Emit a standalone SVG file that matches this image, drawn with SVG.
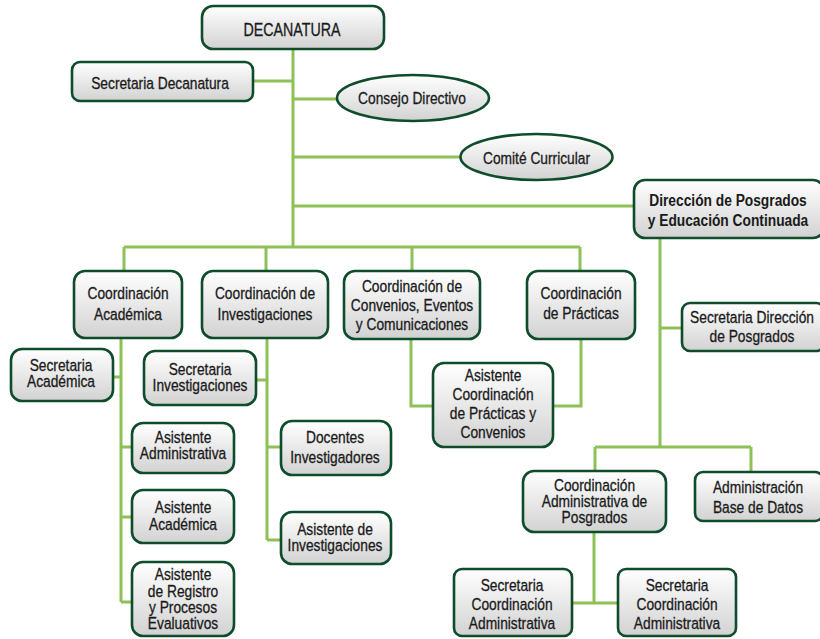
<svg xmlns="http://www.w3.org/2000/svg" width="820" height="639" viewBox="0 0 820 639">
<defs>
<linearGradient id="g" x1="0" y1="0" x2="0" y2="1">
<stop offset="0" stop-color="#ffffff"/>
<stop offset="1" stop-color="#d2d2d2"/>
</linearGradient>
<style>
.b{fill:url(#g);stroke:#0f4c2b;stroke-width:2.6}
.c{fill:none;stroke:#8dc157;stroke-width:3}
text{font-family:"Liberation Sans",Arial,sans-serif;font-size:17px;fill:#1a1a1a;stroke:#1a1a1a;stroke-width:0.3;text-anchor:middle}
.bd{font-weight:bold;stroke-width:0}
</style>
</defs>
<rect width="820" height="639" fill="#ffffff"/>
<g id="connectors">
<path class="c" d="M293,49V247M253,81H293M293,99H337M293,157H460M293,206H634M124,247H580M124,247V271M266,247V271M412,247V271M580,247V271"/>
<path class="c" d="M121,338V602M113,377H121M121,447H132M121,517H132M121,602H132"/>
<path class="c" d="M267,338V540M256,380H267M267,447H281M267,540H281"/>
<path class="c" d="M411,339V406H433M581,339V406H553"/>
<path class="c" d="M660,238V447M660,328H682M595,447H751M595,447V471M751,447V472M594,532V603M572,603H618"/>
</g>
<g id="decanatura"><rect class="b" x="202" y="6" width="182" height="43" rx="11"/><text transform="matrix(.77 0 0 1 292 36)" style="font-size:18.5px">DECANATURA</text></g>
<g id="secretaria-decanatura"><rect class="b" x="72" y="62" width="181" height="39" rx="8"/><text transform="matrix(.81 0 0 1 160 88.5)">Secretaria Decanatura</text></g>
<g id="consejo-directivo"><ellipse class="b" cx="413" cy="98" rx="76" ry="23"/><text transform="matrix(.81 0 0 1 412 104)">Consejo Directivo</text></g>
<g id="comite-curricular"><ellipse class="b" cx="536.5" cy="157" rx="76" ry="23"/><text transform="matrix(.81 0 0 1 536.5 164)">Comité Curricular</text></g>
<g id="direccion-posgrados"><rect class="b" x="634" y="180" width="190" height="58" rx="11"/><text class="bd" transform="matrix(.81 0 0 1 728 206)">Dirección de Posgrados</text><text class="bd" transform="matrix(.81 0 0 1 728 226)">y Educación Continuada</text></g>
<g id="coord-academica"><rect class="b" x="74" y="271" width="108" height="67" rx="11"/><text transform="matrix(.81 0 0 1 128 299)">Coordinación</text><text transform="matrix(.81 0 0 1 128 320)">Académica</text></g>
<g id="coord-investigaciones"><rect class="b" x="202" y="271" width="126" height="67" rx="11"/><text transform="matrix(.81 0 0 1 265 299)">Coordinación de</text><text transform="matrix(.81 0 0 1 265 320)">Investigaciones</text></g>
<g id="coord-convenios"><rect class="b" x="344" y="271" width="136" height="68" rx="11"/><text transform="matrix(.81 0 0 1 412 292)">Coordinación de</text><text transform="matrix(.81 0 0 1 412 311)">Convenios, Eventos</text><text transform="matrix(.81 0 0 1 412 330)">y Comunicaciones</text></g>
<g id="coord-practicas"><rect class="b" x="527" y="271" width="108" height="68" rx="11"/><text transform="matrix(.81 0 0 1 581 299)">Coordinación</text><text transform="matrix(.81 0 0 1 581 319)">de Prácticas</text></g>
<g id="secretaria-direccion"><rect class="b" x="682" y="303" width="142" height="48" rx="8"/><text transform="matrix(.81 0 0 1 752 323)">Secretaria Dirección</text><text transform="matrix(.81 0 0 1 752 342)">de Posgrados</text></g>
<g id="secretaria-academica"><rect class="b" x="11" y="349" width="102" height="52" rx="11"/><text transform="matrix(.81 0 0 1 61 371)">Secretaria</text><text transform="matrix(.81 0 0 1 61 387)">Académica</text></g>
<g id="secretaria-investigaciones"><rect class="b" x="144" y="351" width="112" height="54" rx="11"/><text transform="matrix(.81 0 0 1 200 375)">Secretaria</text><text transform="matrix(.81 0 0 1 200 391)">Investigaciones</text></g>
<g id="asistente-coord-practicas"><rect class="b" x="433" y="363" width="120" height="84" rx="11"/><text transform="matrix(.81 0 0 1 493 381)">Asistente</text><text transform="matrix(.81 0 0 1 493 399.5)">Coordinación</text><text transform="matrix(.81 0 0 1 493 418.5)">de Prácticas y</text><text transform="matrix(.81 0 0 1 493 437.5)">Convenios</text></g>
<g id="asistente-administrativa"><rect class="b" x="132" y="423" width="102" height="50" rx="11"/><text transform="matrix(.81 0 0 1 183 443)">Asistente</text><text transform="matrix(.81 0 0 1 183 459)">Administrativa</text></g>
<g id="docentes-investigadores"><rect class="b" x="281" y="421" width="110" height="54" rx="11"/><text transform="matrix(.81 0 0 1 335 443)">Docentes</text><text transform="matrix(.81 0 0 1 335 463)">Investigadores</text></g>
<g id="asistente-academica"><rect class="b" x="132" y="490" width="102" height="53" rx="11"/><text transform="matrix(.81 0 0 1 183 513)">Asistente</text><text transform="matrix(.81 0 0 1 183 530)">Académica</text></g>
<g id="asistente-investigaciones"><rect class="b" x="281" y="512" width="110" height="52" rx="11"/><text transform="matrix(.81 0 0 1 335 535)">Asistente de</text><text transform="matrix(.81 0 0 1 335 551)">Investigaciones</text></g>
<g id="asistente-registro"><rect class="b" x="132" y="562" width="102" height="74" rx="11"/><text transform="matrix(.81 0 0 1 183 580)">Asistente</text><text transform="matrix(.81 0 0 1 183 596.5)">de Registro</text><text transform="matrix(.81 0 0 1 183 612.5)">y Procesos</text><text transform="matrix(.81 0 0 1 183 629)">Evaluativos</text></g>
<g id="coord-administrativa-posgrados"><rect class="b" x="523" y="471" width="143" height="61" rx="11"/><text transform="matrix(.81 0 0 1 594.5 491)">Coordinación</text><text transform="matrix(.81 0 0 1 594.5 507)">Administrativa de</text><text transform="matrix(.81 0 0 1 594.5 523)">Posgrados</text></g>
<g id="administracion-bd"><rect class="b" x="695" y="472" width="128" height="49" rx="8"/><text transform="matrix(.81 0 0 1 758 493)">Administración</text><text transform="matrix(.81 0 0 1 758 513)">Base de Datos</text></g>
<g id="secretaria-coord-adm-1"><rect class="b" x="454" y="569" width="118" height="67" rx="8"/><text transform="matrix(.81 0 0 1 512 591)">Secretaria</text><text transform="matrix(.81 0 0 1 512 610)">Coordinación</text><text transform="matrix(.81 0 0 1 512 628.5)">Administrativa</text></g>
<g id="secretaria-coord-adm-2"><rect class="b" x="618" y="569" width="118" height="67" rx="8"/><text transform="matrix(.81 0 0 1 677 591)">Secretaria</text><text transform="matrix(.81 0 0 1 677 610)">Coordinación</text><text transform="matrix(.81 0 0 1 677 628.5)">Administrativa</text></g>
</svg>
